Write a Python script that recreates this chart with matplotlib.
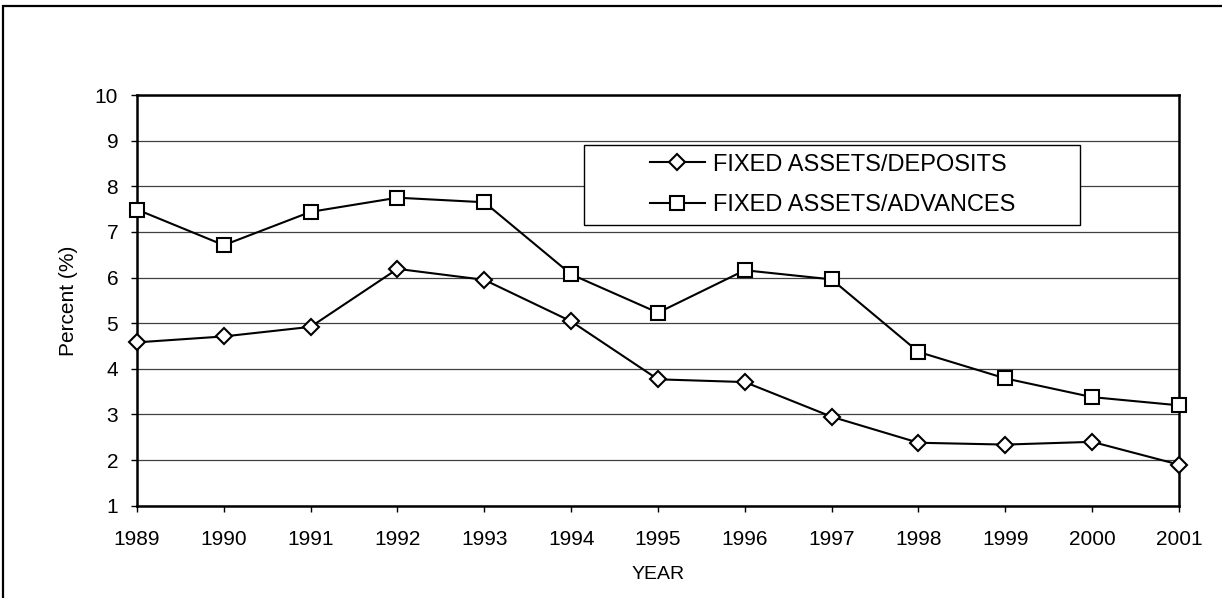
import matplotlib
matplotlib.use('Agg')
import matplotlib.pyplot as plt
from matplotlib.patches import Rectangle

plt.rcParams['font.family'] = ['Liberation Sans', 'DejaVu Sans']

years = [1989, 1990, 1991, 1992, 1993, 1994, 1995, 1996, 1997, 1998, 1999, 2000, 2001]
deposits = [4.58, 4.71, 4.92, 6.19, 5.95, 5.04, 3.77, 3.71, 2.95, 2.38, 2.34, 2.40, 1.90]
advances = [7.49, 6.71, 7.44, 7.75, 7.65, 6.07, 5.23, 6.16, 5.96, 4.37, 3.79, 3.38, 3.20]
yticks = list(range(1, 11))

fig = plt.figure(figsize=(12.22, 5.98), dpi=100)
ax = fig.add_axes([0.1121, 0.1543, 0.8527, 0.6868])

# outer chart frame (right and bottom edges fall outside the image)
fig.patches.append(Rectangle((3 / 1222, -0.05), 1.05, 1.05 - 6 / 598,
                             transform=fig.transFigure, fill=False,
                             edgecolor='black', linewidth=1.6))

ax.plot(years, deposits, color='black', lw=1.5, marker='D', markersize=8,
        markerfacecolor='white', markeredgecolor='black', markeredgewidth=1.5,
        label='FIXED ASSETS/DEPOSITS', clip_on=False, zorder=3)
ax.plot(years, advances, color='black', lw=1.5, marker='s', markersize=10,
        markerfacecolor='white', markeredgecolor='black', markeredgewidth=1.5,
        label='FIXED ASSETS/ADVANCES', clip_on=False, zorder=3)

ax.set_xlim(years[0], years[-1])
ax.set_ylim(1, 10)
ax.set_xticks(years)
ax.set_yticks(yticks)
ax.tick_params(axis='both', direction='out', length=4.5, width=1, labelsize=15)
ax.tick_params(axis='x', pad=13)
ax.tick_params(axis='y', pad=9)
ax.yaxis.grid(True, color='0.25', linewidth=0.9)
ax.set_axisbelow(True)
for s in ax.spines.values():
    s.set_linewidth(1.8)

ax.set_xlabel('YEAR', fontsize=14, labelpad=12)
ax.set_ylabel('Percent (%)', fontsize=15, labelpad=12)

# legend: content centred inside a wider box, like the original
leg = ax.legend(loc='center', bbox_to_anchor=(0.668, 0.781), fontsize=17,
                frameon=False, handlelength=2.3, handletextpad=0.38,
                borderpad=0, labelspacing=0.8)
ax.add_patch(Rectangle((0.429, 0.6835), 0.476, 0.1945, transform=ax.transAxes,
                       facecolor='white', edgecolor='black', linewidth=1.0,
                       zorder=4))
leg.set_zorder(5)

fig.savefig('out.png', dpi=100)
